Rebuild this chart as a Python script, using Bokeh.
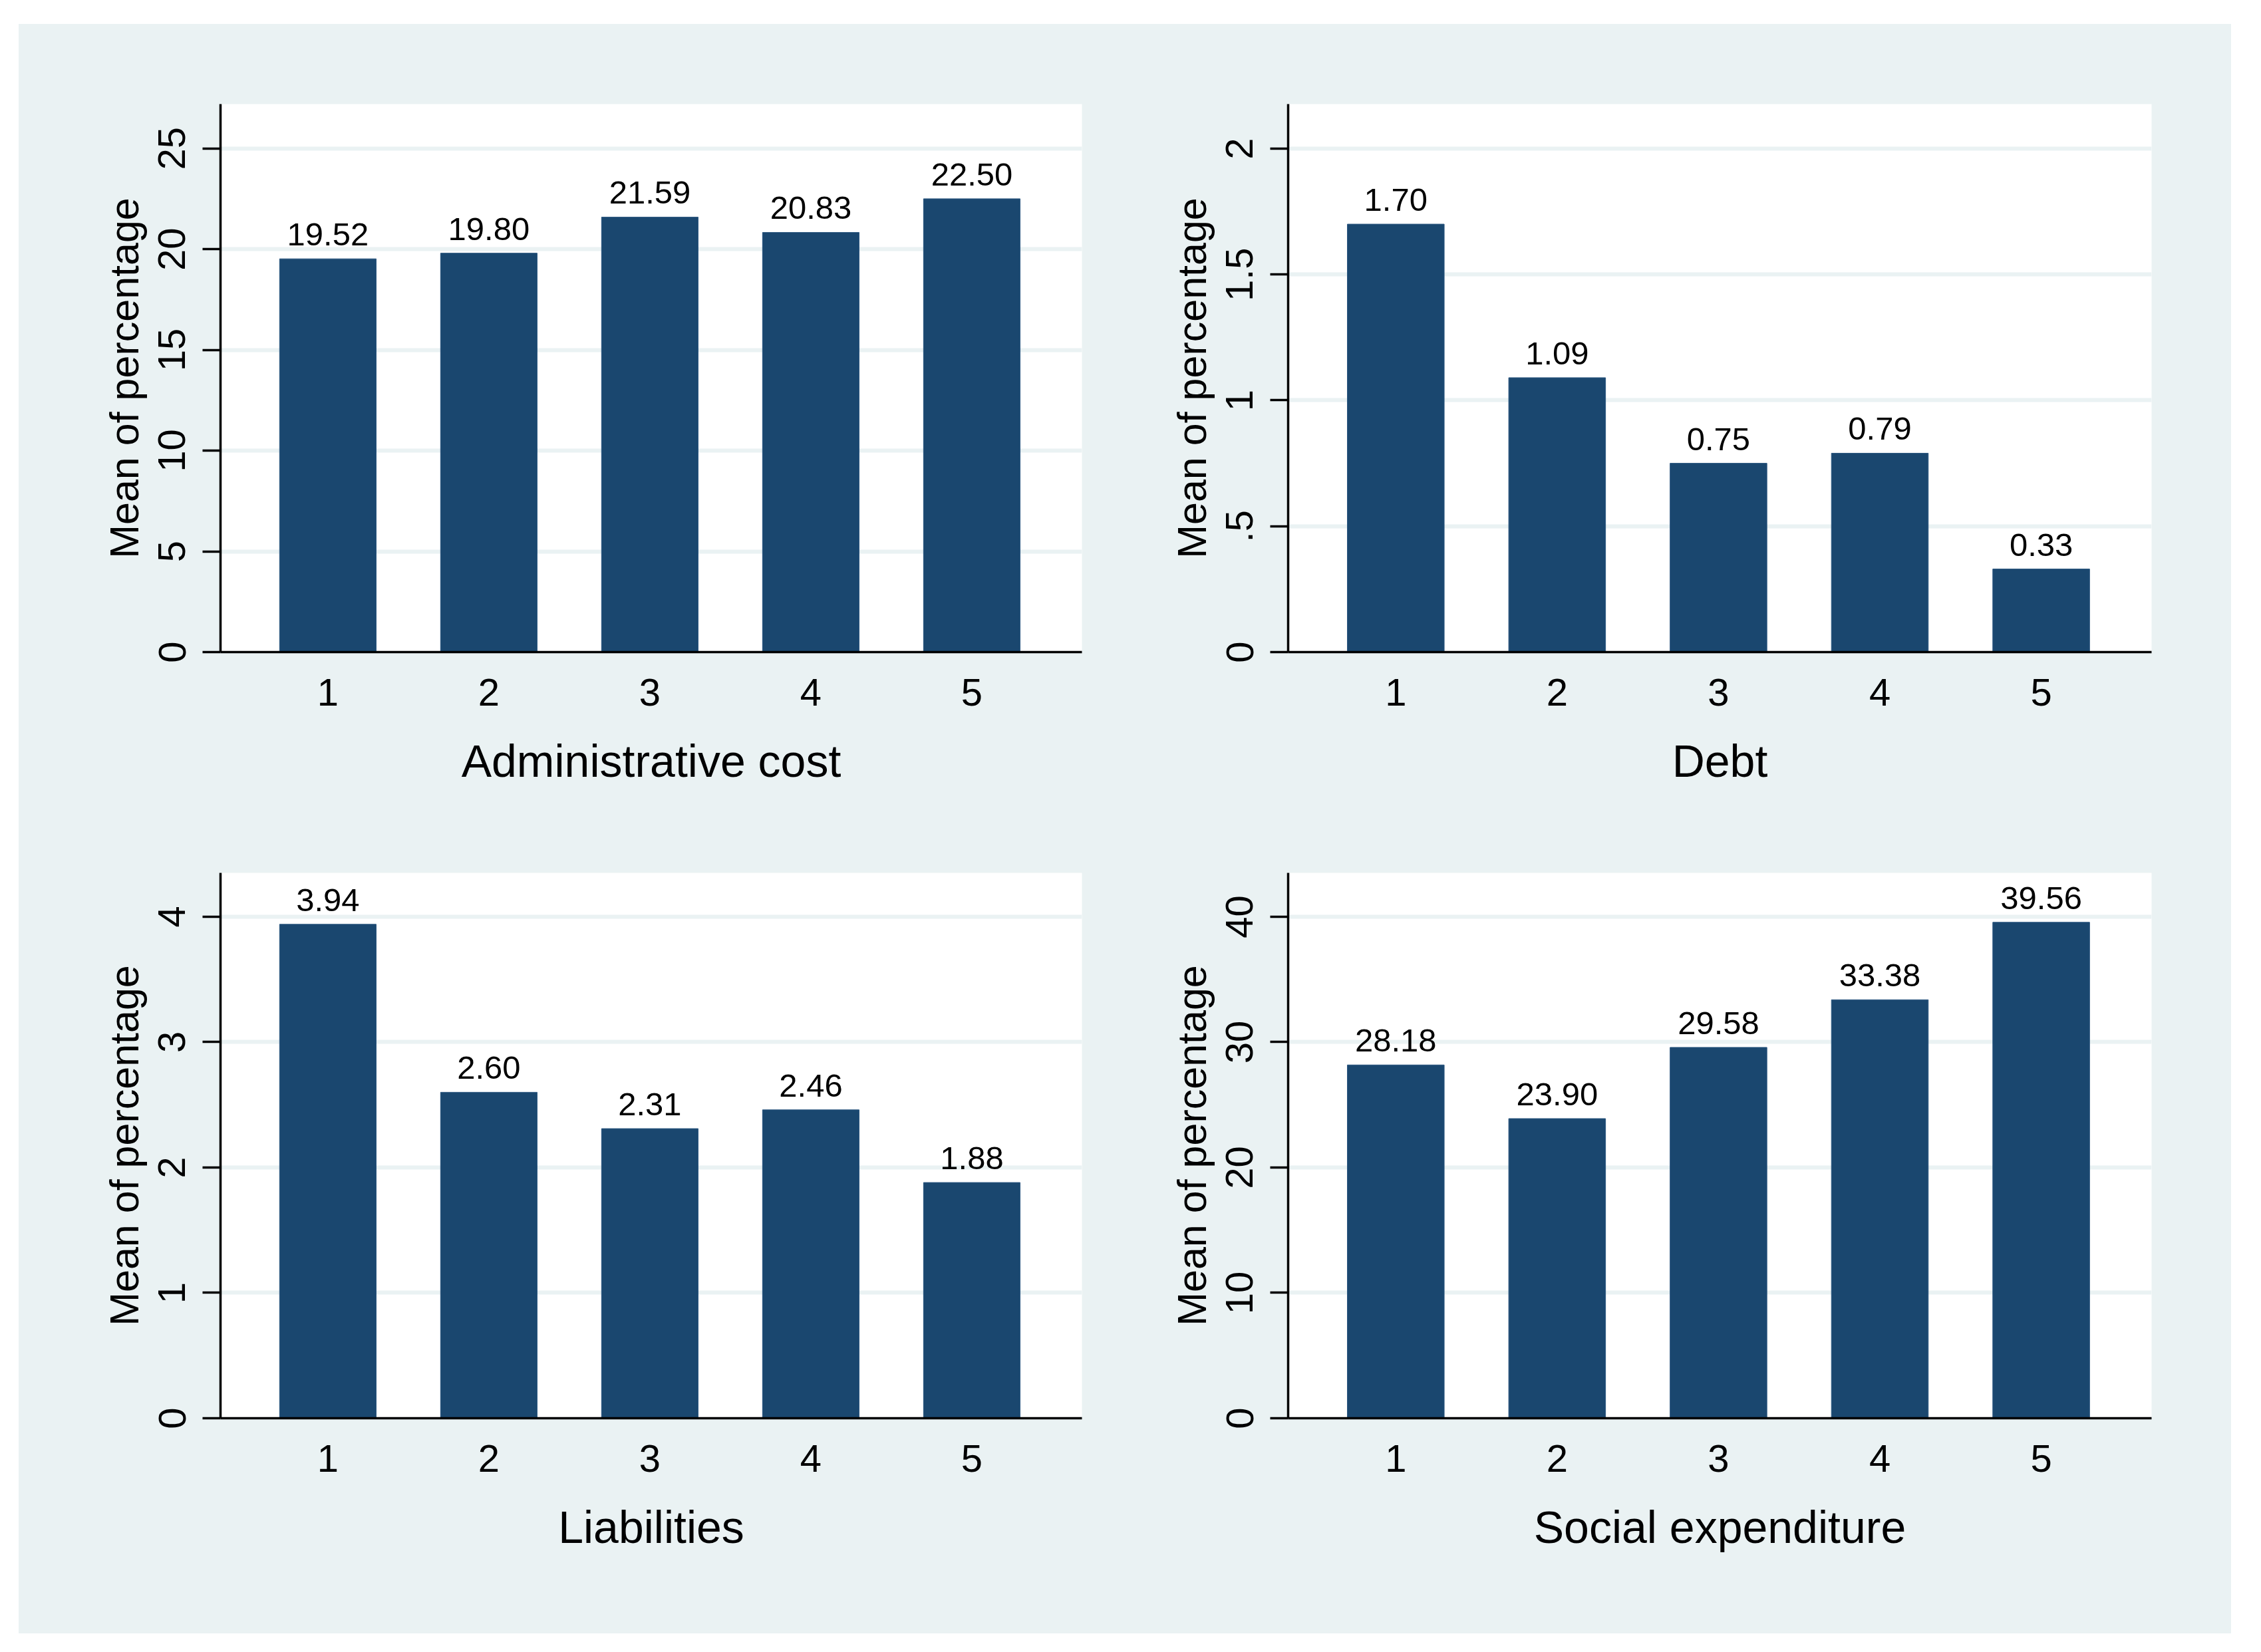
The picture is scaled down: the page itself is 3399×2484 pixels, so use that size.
from bokeh.plotting import figure
from bokeh.layouts import column, row
from bokeh.models import ColumnDataSource, FixedTicker, Range1d, LabelSet
from bokeh.core.properties import value
from bokeh.embed import file_html
from bokeh.resources import INLINE

# ---- data ----
categories = [1, 2, 3, 4, 5]
cat_labels = ["1", "2", "3", "4", "5"]

admin_cost = [19.52, 19.80, 21.59, 20.83, 22.50]
debt = [1.70, 1.09, 0.75, 0.79, 0.33]
liabilities = [3.94, 2.60, 2.31, 2.46, 1.88]
social_exp = [28.18, 23.90, 29.58, 33.38, 39.56]

titles = ["Administrative cost", "Debt", "Liabilities", "Social expenditure"]
y_title = "Mean of percentage"

admin_ticks = [0, 5, 10, 15, 20, 25]
admin_tick_labels = ["0", "5", "10", "15", "20", "25"]
debt_ticks = [0, 0.5, 1, 1.5, 2]
debt_tick_labels = ["0", ".5", "1", "1.5", "2"]
liab_ticks = [0, 1, 2, 3, 4]
liab_tick_labels = ["0", "1", "2", "3", "4"]
social_ticks = [0, 10, 20, 30, 40]
social_tick_labels = ["0", "10", "20", "30", "40"]

y_max = [27.2, 2.177, 4.35, 43.5]

BG = "#eaf2f3"
BAR = "#1a476f"
FONT = "Liberation Sans"


def make_panel(values, ticks, tick_labels, title, ymax, borders, w, h):
    left, right, top, bottom = borders
    p = figure(width=w, height=h, output_backend="svg", toolbar_location=None,
               x_range=Range1d(0.333, 5.684), y_range=Range1d(0, ymax),
               min_border_left=left, min_border_right=right,
               min_border_top=top, min_border_bottom=bottom)
    p.background_fill_color = "white"
    p.border_fill_color = BG
    p.outline_line_color = None

    src = ColumnDataSource(dict(x=categories, top=values,
                                lab=["%.2f" % v for v in values]))
    p.vbar(x="x", top="top", bottom=0, width=0.6, source=src,
           fill_color=BAR, line_color="#2c5780", line_width=1)
    labels = LabelSet(x="x", y="top", text="lab", source=src,
                      text_align="center", text_baseline="alphabetic",
                      y_offset=20, text_font=value(FONT),
                      text_font_size=value("49px"), text_color="black")
    p.add_layout(labels)

    # grid
    p.xgrid.visible = False
    p.ygrid.ticker = FixedTicker(ticks=ticks)
    p.ygrid.grid_line_color = BG
    p.ygrid.grid_line_width = 6

    # y axis
    ya = p.yaxis[0]
    ya.ticker = FixedTicker(ticks=ticks)
    ya.major_label_overrides = {t: l for t, l in zip(ticks, tick_labels)}
    ya.major_label_orientation = "vertical"
    ya.major_tick_in = 0
    ya.major_tick_out = 27
    ya.minor_tick_line_color = None
    ya.major_tick_line_width = 3.5
    ya.axis_line_width = 3.5
    ya.axis_line_color = "black"
    ya.major_tick_line_color = "black"
    ya.major_label_text_font = FONT
    ya.major_label_text_font_size = "58px"
    ya.major_label_text_color = "black"
    ya.major_label_standoff = 26
    ya.axis_label = y_title
    ya.axis_label_text_font = FONT
    ya.axis_label_text_font_size = "61px"
    ya.axis_label_text_font_style = "normal"
    ya.axis_label_text_color = "black"
    ya.axis_label_standoff = 15

    # x axis
    xa = p.xaxis[0]
    xa.ticker = FixedTicker(ticks=categories)
    xa.major_label_overrides = {c: l for c, l in zip(categories, cat_labels)}
    xa.major_tick_in = 0
    xa.major_tick_out = 0
    xa.minor_tick_line_color = None
    xa.axis_line_width = 3.5
    xa.axis_line_color = "black"
    xa.major_label_text_font = FONT
    xa.major_label_text_font_size = "58px"
    xa.major_label_text_color = "black"
    xa.major_label_standoff = 40
    xa.axis_label = title
    xa.axis_label_text_font = FONT
    xa.axis_label_text_font_size = "68px"
    xa.axis_label_text_font_style = "normal"
    xa.axis_label_text_color = "black"
    xa.axis_label_standoff = 42
    return p


W, H = 1663, 1210
p1 = make_panel(admin_cost, admin_ticks, admin_tick_labels, titles[0], y_max[0],
                (303, 65, 120, 266), W, H)
p2 = make_panel(debt, debt_ticks, debt_tick_labels, titles[1], y_max[1],
                (245, 120, 120, 266), W, H)
p3 = make_panel(liabilities, liab_ticks, liab_tick_labels, titles[2], y_max[2],
                (303, 65, 66, 324), W, H)
p4 = make_panel(social_exp, social_ticks, social_tick_labels, titles[3], y_max[3],
                (245, 120, 66, 324), W, H)

row1 = row(p1, p2, spacing=0, styles={"background-color": BG})
row2 = row(p3, p4, spacing=0, styles={"background-color": BG})
layout = column(row1, row2, spacing=0, margin=(36, 0, 0, 28),
                styles={"background-color": BG})

open("out.html", "w").write(file_html(layout, INLINE))
